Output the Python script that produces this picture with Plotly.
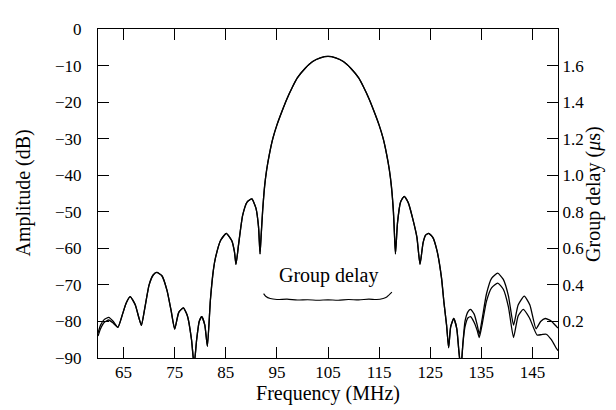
import plotly.graph_objects as go

# Shared amplitude response (both curves coincide here), MHz / dB
freq_common = [63.9, 64.8, 65.5, 66.3, 67.3, 68.0, 68.5, 69.2, 70.0, 70.8, 71.5, 72.5, 73.5, 74.3, 75.0,
               75.8, 76.7, 77.5, 78.3, 78.8, 79.3, 79.8, 80.3, 80.9, 81.4, 82.0, 82.6, 83.0, 84.0, 85.1,
               86.2, 86.7, 87.0, 87.5, 88.3, 89.2, 90.1, 90.9, 91.4, 91.7,
               91.9, 92.2, 92.6, 93.0, 93.5, 94.2, 95.0, 96.0, 97.0, 98.0, 99.0, 100.5, 102.0, 103.5,
               105.0, 106.5, 108.0, 109.5, 111.0, 112.0, 113.0, 114.0, 115.0, 115.8, 116.5, 117.0,
               117.4, 117.8, 118.0, 118.2,
               118.6, 119.2, 119.9, 120.7, 121.6, 122.4,
               123.0, 123.6, 124.1, 124.7, 125.5, 126.3, 127.2, 127.7, 128.2, 128.6, 129.0, 129.6, 130.2,
               130.6, 131.0, 131.4]
amp_common = [-81.6, -78.0, -75.0, -73.2, -75.5, -79.0, -81.1, -76.0, -70.0, -67.3, -66.6, -67.5, -71.5, -77.0, -82.1,
              -77.5, -76.3, -78.5, -85.0, -92.0, -85.0, -80.0, -78.7, -81.0, -86.8, -74.0, -65.7, -62.5, -57.8, -55.9,
              -58.0, -61.0, -64.4, -59.0, -51.0, -47.3, -46.5, -49.0, -54.0, -61.5,
              -57.0, -50.0, -43.0, -38.5, -34.5, -30.0, -26.3, -22.5, -19.0, -16.0, -13.4, -10.8, -8.9, -7.9,
              -7.5, -7.9, -8.9, -10.8, -13.4, -16.0, -19.0, -22.5, -26.3, -30.0, -34.5, -38.5,
              -43.0, -50.0, -56.0, -61.5,
              -53.0, -47.3, -45.8, -47.5, -52.0, -57.0,
              -64.4, -58.5, -56.4, -55.9, -57.0, -60.5, -68.0, -75.0, -81.0, -87.2, -81.5, -79.2, -82.0,
              -88.0, -93.0, -86.0]

# Low-frequency start, curve A / curve B
freq_start = [60.0, 60.5, 61.2, 62.1, 63.0]
amp_start_a = [-83.2, -81.0, -79.5, -78.9, -80.0]
amp_start_b = [-84.0, -82.0, -80.3, -79.6, -80.5]

# High-frequency tail, curve A (upper)
freq_tail_a = [131.8, 132.4, 132.9, 133.6, 134.2, 134.6, 135.2, 136.0, 137.0, 138.2, 139.3, 140.3, 141.3,
               142.2, 143.4, 144.5, 145.7, 146.6, 147.5, 148.6, 149.7, 150.0]
amp_tail_a = [-80.0, -77.3, -76.7, -78.0, -81.0, -83.5, -79.0, -72.5, -68.2, -66.8, -68.5, -73.0, -81.0,
              -75.5, -73.1, -75.5, -82.0, -80.0, -79.2, -79.8, -81.4, -81.8]

# High-frequency tail, curve B (lower)
freq_tail_b = [131.8, 132.4, 132.9, 133.6, 134.2, 134.6, 135.2, 136.0, 137.0, 138.2, 139.3, 140.3, 141.3,
               142.2, 143.2, 144.4, 145.9, 146.8, 147.7, 148.7, 149.7, 150.0]
amp_tail_b = [-81.5, -79.0, -78.7, -80.3, -82.5, -84.4, -80.5, -74.5, -70.8, -69.5, -71.2, -76.0, -84.4,
              -78.5, -76.7, -79.0, -83.7, -83.6, -83.5, -85.0, -87.4, -88.0]

# Group delay (right axis, microseconds)
freq_gd = [92.4, 92.8, 93.7, 95.0, 97.0, 99.0, 101.0, 103.0, 105.0, 107.0, 109.0, 111.0, 113.0, 114.5,
           115.8, 116.5, 117.5]
gd = [0.352, 0.338, 0.325, 0.320, 0.322, 0.317, 0.319, 0.316, 0.318, 0.316, 0.320, 0.318, 0.322, 0.320,
      0.326, 0.334, 0.360]

x_ticks = [65, 75, 85, 95, 105, 115, 125, 135, 145]
y_ticks = [0, -10, -20, -30, -40, -50, -60, -70, -80, -90]
y2_ticks = [0.2, 0.4, 0.6, 0.8, 1.0, 1.2, 1.4, 1.6]

FONT = "Liberation Serif, Times New Roman, serif"
line = dict(color="black", width=1.3, shape="spline", smoothing=0.5)

fig = go.Figure()
fig.add_trace(go.Scatter(x=freq_start + freq_common + freq_tail_a,
                         y=amp_start_a + amp_common + amp_tail_a,
                         mode="lines", line=line, showlegend=False))
fig.add_trace(go.Scatter(x=freq_start + freq_common + freq_tail_b,
                         y=amp_start_b + amp_common + amp_tail_b,
                         mode="lines", line=line, showlegend=False))
fig.add_trace(go.Scatter(x=freq_gd, y=gd, yaxis="y2", mode="lines",
                         line=dict(color="black", width=1.1, shape="spline", smoothing=0.7),
                         showlegend=False))

fig.add_annotation(x=105, y=-67.3, text="Group delay", showarrow=False,
                   font=dict(family=FONT, size=20, color="black"))
fig.add_annotation(xref="paper", yref="paper", x=-0.163, y=0.5, text="Amplitude (dB)",
                   textangle=-90, showarrow=False, xanchor="center", yanchor="middle",
                   font=dict(family=FONT, size=20, color="black"))
fig.add_annotation(xref="paper", yref="paper", x=1.077, y=0.5, text="Group delay (<i>\u03bc</i>s)",
                   textangle=-90, showarrow=False, xanchor="center", yanchor="middle",
                   font=dict(family=FONT, size=20, color="black"))

fig.update_layout(
    width=616, height=410,
    margin=dict(l=90, r=66, t=15, b=60),
    paper_bgcolor="white", plot_bgcolor="white",
    font=dict(family=FONT, size=17, color="black"),
    xaxis=dict(range=[60, 150], tickvals=x_ticks, ticks="inside", ticklen=11, tickcolor="black",
               showline=True, linecolor="black", linewidth=1.2, mirror="ticks", showgrid=False,
               zeroline=False, ticklabelstandoff=-2,
               title=dict(text="Frequency (MHz)", standoff=3, font=dict(size=20))),
    yaxis=dict(range=[-90, 0], tickvals=y_ticks, ticktext=["0"] + ["\u2212%d" % abs(v) for v in y_ticks[1:]],
               ticks="inside", ticklen=11, tickcolor="black", showline=True, linecolor="black",
               linewidth=1.2, showgrid=False, zeroline=False, ticklabelstandoff=12),
    yaxis2=dict(range=[0, 1.8], tickvals=y2_ticks, ticktext=["%.1f" % v for v in y2_ticks],
                overlaying="y", side="right", ticks="inside", ticklen=11, tickcolor="black",
                showline=True, linecolor="black", linewidth=1.2, showgrid=False, zeroline=False,
                ticklabelstandoff=0),
)

fig.write_html("out.html")
